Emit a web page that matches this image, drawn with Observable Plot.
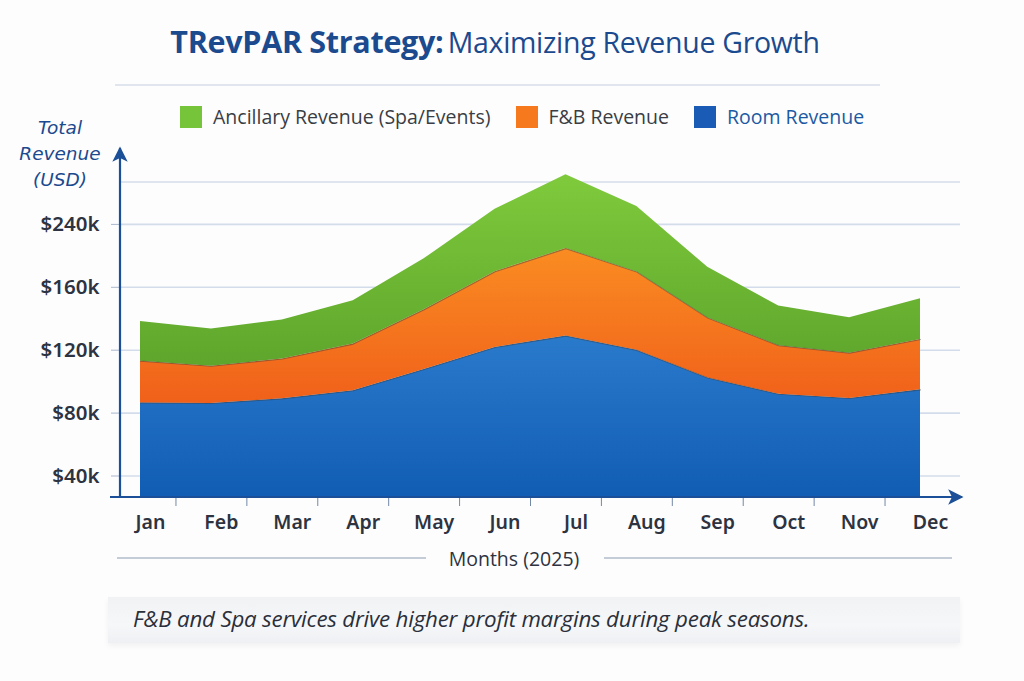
<!DOCTYPE html>
<html>
<head>
<meta charset="utf-8">
<script src="https://cdn.jsdelivr.net/npm/d3@7"></script>
<script src="https://cdn.jsdelivr.net/npm/@observablehq/plot@0.6"></script>
<style>
  html, body { margin: 0; padding: 0; background: #fdfdfe; }
  #wrap { position: relative; width: 1024px; height: 681px; overflow: hidden; font-family: "Open Sans", sans-serif; }
  #chart { position: absolute; left: 0; top: 0; }
  .abs { position: absolute; white-space: nowrap; }
  #title { left: 0; width: 990px; top: 20px; text-align: center; color: #1b4a8e; }
  #title .b { font-weight: 700; font-size: 30.5px; letter-spacing: -0.3px; }
  #title .r { font-weight: 400; font-size: 28.5px; letter-spacing: -0.3px; }
  #rule { left: 115px; top: 84px; width: 765px; height: 2px; background: #e1e6ee; }
  #legend { left: 180px; top: 103px; display: flex; align-items: center; font-size: 19.5px; color: #3a3d44; }
  #legend .sw { width: 22px; height: 22px; display: inline-block; margin-right: 11px; }
  #legend .it { display: flex; align-items: center; margin-right: 25px; }
  #ytitle { left: 18px; top: 115px; width: 84px; text-align: center; color: #1b4a8e; font-family: "DejaVu Sans", sans-serif; font-style: italic; font-size: 18.5px; line-height: 26px; }
  #xtitle { left: 0; top: 547px; width: 1024px; height: 30px; }
  #xtitle .l1 { position: absolute; left: 117px; top: 10px; width: 309px; height: 2px; background: #c4ccd8; }
  #xtitle .l2 { position: absolute; left: 604px; top: 10px; width: 348px; height: 2px; background: #c4ccd8; }
  #xtitle .t { position: absolute; left: 424px; width: 180px; top: -2px; text-align: center; font-size: 19.5px; color: #2d3340; }
  #caption { left: 108px; top: 597px; width: 852px; height: 46px; background: linear-gradient(to bottom, #f1f2f4, #f6f7f9 60%, #eef0f3); box-shadow: 0 3px 6px rgba(0,0,0,0.05); }
  #caption .t { position: absolute; left: 25px; top: 6px; font-style: italic; font-size: 22.3px; color: #2a2f3a; letter-spacing: -0.2px; }
</style>
</head>
<body>
<div id="wrap">
  <div id="chart"></div>
  <div id="title" class="abs"><span class="b">TRevPAR Strategy:</span> <span class="r">Maximizing Revenue Growth</span></div>
  <div id="rule" class="abs"></div>
  <div id="legend" class="abs"></div>
  <div id="ytitle" class="abs">Total<br>Revenue<br>(USD)</div>
  <div id="xtitle" class="abs"><div class="l1"></div><div class="t">Months (2025)</div><div class="l2"></div></div>
  <div id="caption" class="abs"><div class="t">F&amp;B and Spa services drive higher profit margins during peak seasons.</div></div>
</div>
<script>
const months = ["Jan","Feb","Mar","Apr","May","Jun","Jul","Aug","Sep","Oct","Nov","Dec"];
const roomRevenue = [86500, 86100, 89100, 94200, 107700, 121700, 129000, 119900, 102400, 92000, 89300, 94800];
const fnbRevenue = [26500, 23700, 25300, 29700, 38000, 48200, 55600, 49800, 38100, 30900, 28800, 32000];
const ancillaryRevenue = [25300, 23700, 24800, 27500, 32400, 39700, 47000, 41700, 32200, 25200, 22600, 25900];
const seriesNames = ["Room Revenue", "F&B Revenue", "Ancillary Revenue (Spa/Events)"];
const legendOrder = ["Ancillary Revenue (Spa/Events)", "F&B Revenue", "Room Revenue"];
const yTickValues = [40000, 80000, 120000, 160000, 200000];
const yTickLabels = ["$40k", "$80k", "$120k", "$160k", "$240k"];
const gridValues = [40000, 80000, 120000, 160000, 200000, 227000];

const swatch = {"Room Revenue": "#1a5cb5", "F&B Revenue": "#f67a1d", "Ancillary Revenue (Spa/Events)": "#76c43a"};
const gradIds = {"Room Revenue": "gRoom", "F&B Revenue": "gFnb", "Ancillary Revenue (Spa/Events)": "gAnc"};

const seriesValues = [roomRevenue, fnbRevenue, ancillaryRevenue];
const tidy = [];
seriesNames.forEach((s, k) => months.forEach((m, i) => tidy.push({i, month: m, series: s, value: seriesValues[k][i]})));

const W = 1024, H = 681, ML = 120, MR = 64, MT = 150, MB = 184;

const chart = Plot.plot({
  width: W, height: H,
  marginLeft: ML, marginRight: MR, marginTop: MT, marginBottom: MB,
  style: {background: "transparent", overflow: "visible"},
  x: {domain: [0, 11], range: [140, 920], axis: null},
  y: {domain: [0, 240000], range: [538.4, 161], axis: null},
  color: {domain: seriesNames, range: seriesNames.map(s => `url(#${gradIds[s]})`)},
  marks: [
    Plot.gridY(gridValues, {stroke: "#d3dcea", strokeOpacity: 1, strokeWidth: 1.6}),
    Plot.areaY(tidy, Plot.stackY({x: "i", y: "value", z: "series", fill: "series", order: seriesNames, clip: true})),
    Plot.lineY(tidy, Plot.stackY2({x: "i", y: "value", z: "series", order: seriesNames, stroke: "#3c3c3c", strokeOpacity: 0.45, strokeWidth: 1.2, clip: true,
      filter: d => d.series !== "Ancillary Revenue (Spa/Events)"})),
    Plot.axisY(yTickValues, {anchor: "left", tickSize: 9, tickPadding: 12, stroke: "#a9b7cc",
      tickFormat: d => yTickLabels[yTickValues.indexOf(d)], fontSize: 20.5, fontWeight: 600, fill: "#2d3340", label: null}),
    Plot.axisX(d3.range(12), {anchor: "bottom", tickSize: 0, tickPadding: 18, dx: 10,
      tickFormat: i => months[i], fontSize: 19.5, fontWeight: 600, fill: "#2d3340", label: null}),
    Plot.axisX(d3.range(11).map(i => i + 0.5), {anchor: "bottom", tickSize: 9, stroke: "#7488a6", tickFormat: () => "", label: null})
  ]
});

// gradients
const svg = d3.select(chart);
const defs = svg.insert("defs", ":first-child");
const grads = [
  ["gRoom", "#2a7acc", "#0a55ae"],
  ["gFnb", "#fa8c22", "#f0601a"],
  ["gAnc", "#7fca3c", "#5ea62c"]
];
for (const [id, c1, c2] of grads) {
  const g = defs.append("linearGradient").attr("id", id).attr("x1", 0).attr("y1", 0).attr("x2", 0).attr("y2", 1);
  g.append("stop").attr("offset", "0%").attr("stop-color", c1);
  g.append("stop").attr("offset", "100%").attr("stop-color", c2);
}
const mk = defs.append("marker").attr("id", "arrowHead").attr("viewBox", "0 0 10 10")
  .attr("refX", 9).attr("refY", 5).attr("markerWidth", 7).attr("markerHeight", 7).attr("orient", "auto")
  .attr("markerUnits", "strokeWidth");
mk.append("path").attr("d", "M0,0 L10,5 L0,10 L2.5,5 Z").attr("fill", "#1b4f98");

// axis lines with arrows
const bottom = H - MB;
svg.append("line").attr("x1", ML - 10).attr("x2", W - MR + 2).attr("y1", bottom).attr("y2", bottom)
  .attr("stroke", "#1b4f98").attr("stroke-width", 2.2).attr("marker-end", "url(#arrowHead)");
svg.append("line").attr("x1", ML).attr("x2", ML).attr("y1", bottom).attr("y2", MT - 2)
  .attr("stroke", "#1b4f98").attr("stroke-width", 2.2).attr("marker-end", "url(#arrowHead)");

document.getElementById("chart").appendChild(chart);

// legend
const legend = document.getElementById("legend");
for (const s of legendOrder) {
  const it = document.createElement("div");
  it.className = "it";
  const sw = document.createElement("span");
  sw.className = "sw";
  sw.style.background = swatch[s];
  const t = document.createElement("span");
  t.textContent = s;
  if (s === "Room Revenue") t.style.color = "#1b5aa3";
  it.appendChild(sw); it.appendChild(t);
  legend.appendChild(it);
}
</script>
</body>
</html>
